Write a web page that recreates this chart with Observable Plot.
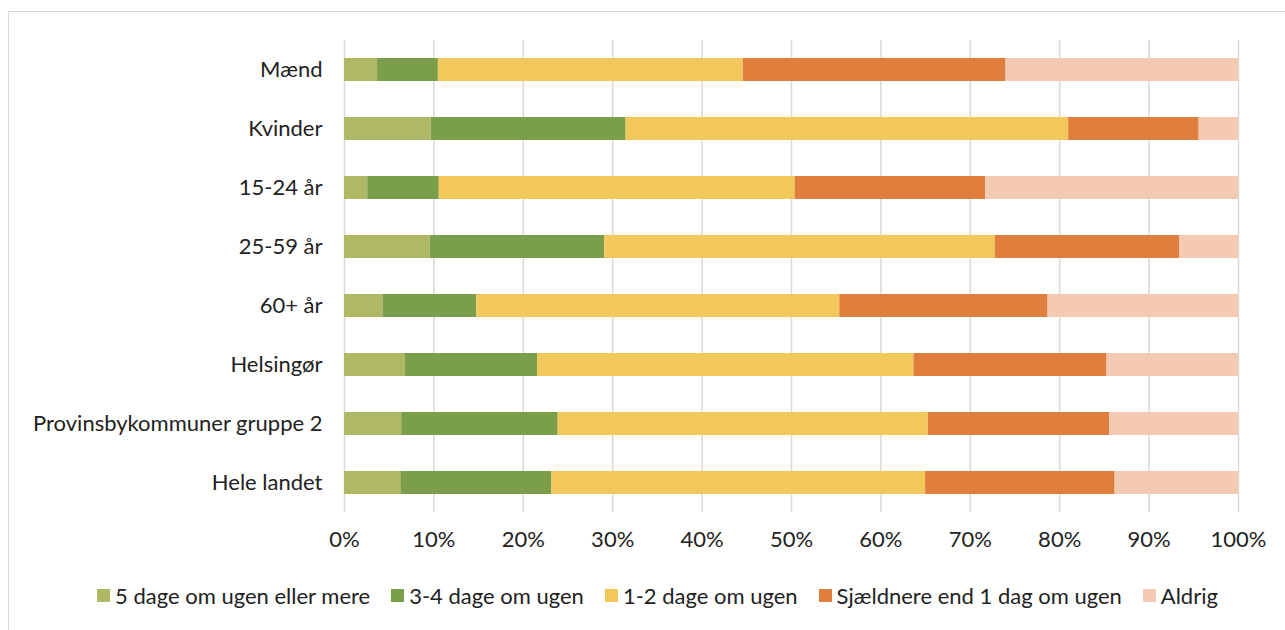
<!DOCTYPE html>
<html>
<head>
<meta charset="utf-8">
<script src="https://cdn.jsdelivr.net/npm/d3@7"></script>
<script src="https://cdn.jsdelivr.net/npm/@observablehq/plot@0.6"></script>
<style>
  body { margin: 0; background: #fff; font-family: Lato, "Open Sans", sans-serif; }
  #frame { position: absolute; left: 8px; top: 11px; width: 1290px; height: 640px; border: 1.5px solid #d9d9d9; box-sizing: border-box; }
  #chart { position: absolute; left: 0; top: 0; }
  #legend { position: absolute; left: 0; width: 1285px; top: 582px; display: flex; justify-content: center; font-size: 22px; color: #222; padding-left: 30px; box-sizing: border-box; white-space: nowrap; }
  .item { display: flex; align-items: center; margin: 0 10.5px; }
  .sw { width: 13px; height: 13px; margin-right: 5px; display: inline-block; }
</style>
</head>
<body>
<div id="frame"></div>
<div id="chart"></div>
<div id="legend"></div>
<script>
const categories = ["Mænd", "Kvinder", "15-24 år", "25-59 år", "60+ år", "Helsingør", "Provinsbykommuner gruppe 2", "Hele landet"];
const seriesNames = ["5 dage om ugen eller mere", "3-4 dage om ugen", "1-2 dage om ugen", "Sjældnere end 1 dag om ugen", "Aldrig"];
const colors = ["#AEB865", "#7A9E4A", "#F2C75C", "#E07F3D", "#F4CBB2"];
const s5dage   = [3.7, 9.7, 2.6, 9.6, 4.3, 6.8, 6.4, 6.3];
const s34dage  = [6.8, 21.8, 8.0, 19.5, 10.5, 14.8, 17.5, 16.9];
const s12dage  = [34.1, 49.5, 39.8, 43.7, 40.6, 42.1, 41.4, 41.8];
const sSjaeld  = [29.4, 14.6, 21.3, 20.6, 23.3, 21.6, 20.3, 21.2];
const sAldrig  = [26.0, 4.4, 28.3, 6.6, 21.3, 14.7, 14.4, 13.8];
const xTicks = [0, 10, 20, 30, 40, 50, 60, 70, 80, 90, 100];

const seriesValues = [s5dage, s34dage, s12dage, sSjaeld, sAldrig];
const data = [];
seriesNames.forEach((s, i) => categories.forEach((c, j) => data.push({category: c, series: s, value: seriesValues[i][j]})));

const chart = Plot.plot({
  width: 1285,
  height: 570,
  marginLeft: 344,
  marginRight: 47,
  marginTop: 40,
  marginBottom: 58,
  style: {fontFamily: "Lato, 'Open Sans', sans-serif", fontSize: "22px", color: "#222", background: "transparent"},
  x: {domain: [0, 100], label: null},
  y: {domain: categories, label: null, paddingInner: 0.61, paddingOuter: 0.305},
  color: {domain: seriesNames, range: colors},
  marks: [
    Plot.ruleX(xTicks, {stroke: "#d9d9d9", strokeWidth: 1.5}),
    Plot.barX(data, Plot.stackX({x: "value", y: "category", fill: "series", order: seriesNames, inset: 0})),
    Plot.axisX({ticks: xTicks, tickFormat: d => d + "%", tickSize: 0, tickPadding: 19, fontSize: 22, label: null}),
    Plot.axisY({tickSize: 0, tickPadding: 22, fontSize: 22, label: null})
  ]
});
document.getElementById("chart").appendChild(chart);

const legend = document.getElementById("legend");
seriesNames.forEach((s, i) => {
  const it = document.createElement("span");
  it.className = "item";
  it.innerHTML = `<span class="sw" style="background:${colors[i]}"></span>${s}`;
  legend.appendChild(it);
});
</script>
</body>
</html>
